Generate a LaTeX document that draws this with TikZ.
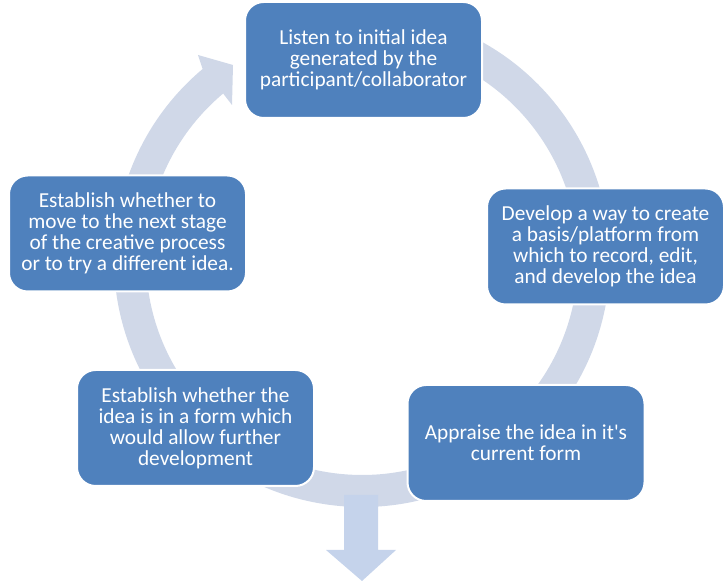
\documentclass[tikz,border=0pt]{standalone}
\usepackage{fontspec}
\setmainfont{Carlito}[Ligatures=TeXOff]
\usetikzlibrary{calc}
\definecolor{boxblue}{RGB}{79,129,189}
\definecolor{ringgray}{RGB}{208,216,232}
\definecolor{downblue}{RGB}{197,211,235}
\begin{document}
\begin{tikzpicture}[x=0.75pt,y=0.75pt,
  stage/.style={rectangle, rounded corners=14pt, fill=boxblue, draw=white,
    line width=1.5pt, minimum width=177.75pt, minimum height=87pt,
    text=white, align=center, inner sep=0pt,
    font=\fontsize{16}{15.8}\selectfont},
  ringband/.style={fill=ringgray},
  downarrow/.style={fill=downblue}]
\useasboundingbox (0,0) rectangle (726,581);
\coordinate (c) at (362,322);
% continuous cycle ring with arrowhead
\fill[ringband] ($(c)+(80:248)$) arc[start angle=80,end angle=-230,radius=248]
  -- (198,526) -- (233,516) -- (232,476)
  -- ($(c)+(130:216)$) arc[start angle=130,end angle=440,radius=216] -- cycle;
% downward arrow
\fill[downarrow] (344,86) -- (378,86) -- (378,31) -- (396,31) -- (362,0)
  -- (326,31) -- (344,31) -- cycle;
% stages
\node[stage] (n1) at (363.5,521) {Listen to initial idea\\generated by the\\participant/collaborator};
\node[stage] (n2) at (605.5,334.5) {Develop a way to create\\a basis/platform from\\which to record, edit,\\and develop the idea};
\node[stage] (n3) at (526,138) {Appraise the idea in it's\\current form};
\node[stage] (n4) at (195.5,153) {Establish whether the\\idea is in a form which\\would allow further\\development};
\node[stage] (n5) at (127.5,347.5) {Establish whether to\\move to the next stage\\of the creative process\\or to try a different idea.};
\end{tikzpicture}
\end{document}
